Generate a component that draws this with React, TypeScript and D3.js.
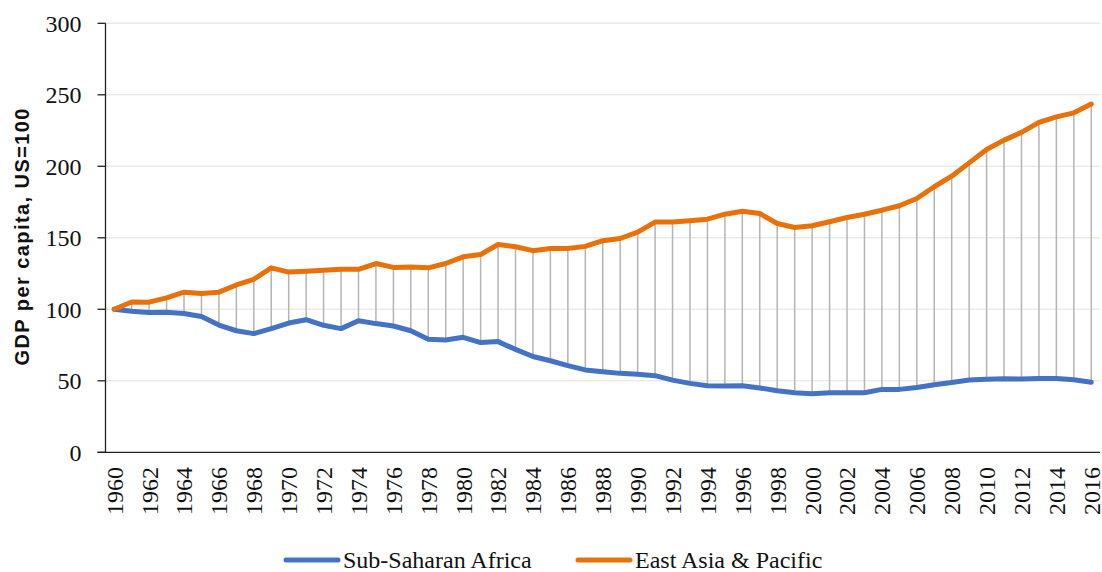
import { useMemo } from "react";
import * as d3 from "d3";

// Years on the category axis
const years: number[] = d3.range(1960, 2017);

// GDP per capita relative to the US (1960 = 100)
const subSaharanAfrica: number[] = [
  100, 98.6, 97.7, 98, 97, 95, 89, 85, 83, 86.5,
  90.4, 92.7, 88.8, 86.5, 92, 90, 88.3, 85, 79, 78.5,
  80.4, 76.7, 77.4, 72, 67, 64, 60.6, 57.6, 56.4, 55.2,
  54.5, 53.6, 50.5, 48.2, 46.6, 46.4, 46.5, 45, 43, 41.6,
  40.9, 41.6, 41.6, 41.6, 44, 44, 45.3, 47.2, 48.8, 50.5,
  51, 51.4, 51.2, 51.6, 51.6, 50.7, 49,
];

const eastAsiaPacific: number[] = [
  100, 105.1, 105, 108, 112, 111, 112, 117, 121, 129,
  126, 126.6, 127.3, 128, 128, 132, 129.3, 129.5, 129, 132,
  136.7, 138.3, 145.3, 143.7, 141, 142.5, 142.5, 144, 148, 149.5,
  154, 161, 161, 162, 163, 166.5, 168.6, 167, 160, 157.2,
  158.4, 161.2, 164.2, 166.5, 169.3, 172.4, 177.5, 185.7, 193.1, 202.4,
  211.8, 218.3, 223.7, 230.7, 234.6, 237.4, 243.5,
];

const yTicks: number[] = [0, 50, 100, 150, 200, 250, 300];
const xTickYears: number[] = years.filter((y) => (y - 1960) % 2 === 0);

const seriesNames = ["Sub-Saharan Africa", "East Asia & Pacific"];
const seriesColors = ["#4472C4", "#E8710A"];

const WIDTH = 1102;
const HEIGHT = 572;
const serif = "'Liberation Serif', 'Times New Roman', serif";

export default function App() {
  const x = useMemo(
    () =>
      d3
        .scaleBand<number>()
        .domain(years)
        .range([105.5, 1100])
        .paddingInner(0)
        .paddingOuter(0),
    []
  );
  const y = useMemo(
    () => d3.scaleLinear().domain([0, 300]).range([452.3, 23.3]),
    []
  );

  const cx = (yr: number) => (x(yr) ?? 0) + x.bandwidth() / 2;

  const line = d3
    .line<number>()
    .x((_, i) => cx(years[i]))
    .y((d) => y(d));

  const [x0, x1] = x.range();

  return (
    <svg
      width={WIDTH}
      height={HEIGHT}
      style={{ position: "absolute", left: 0, top: 0, background: "#fff" }}
    >
      {/* horizontal grid */}
      {yTicks
        .filter((t) => t > 0)
        .map((t) => (
          <line
            key={`g${t}`}
            x1={x0}
            x2={x1}
            y1={y(t)}
            y2={y(t)}
            stroke="#ebebe4"
            strokeWidth={1.5}
          />
        ))}

      {/* high-low drop lines */}
      {years.map((yr, i) => (
        <line
          key={`d${yr}`}
          x1={cx(yr)}
          x2={cx(yr)}
          y1={y(subSaharanAfrica[i])}
          y2={y(eastAsiaPacific[i])}
          stroke="#b4b4b4"
          strokeWidth={1.5}
        />
      ))}

      {/* y axis */}
      <line x1={x0} x2={x0} y1={y(300)} y2={y(0)} stroke="#222" strokeWidth={1.3} />
      {yTicks.map((t) => (
        <g key={`yt${t}`}>
          <line x1={x0 - 8} x2={x0} y1={y(t)} y2={y(t)} stroke="#222" strokeWidth={1.3} />
          <text
            x={x0 - 24}
            y={y(t)}
            dy="0.35em"
            textAnchor="end"
            fontFamily={serif}
            fontSize={24}
            fill="#111"
          >
            {t}
          </text>
        </g>
      ))}

      {/* x axis */}
      <line x1={x0 - 8} x2={x1} y1={y(0)} y2={y(0)} stroke="#222" strokeWidth={1.3} />
      {xTickYears.map((yr) => (
        <text
          key={`xt${yr}`}
          transform={`translate(${cx(yr)},467) rotate(-90)`}
          dy="0.35em"
          textAnchor="end"
          fontFamily={serif}
          fontSize={24}
          fill="#111"
        >
          {yr}
        </text>
      ))}

      {/* series */}
      <path
        d={line(subSaharanAfrica) ?? ""}
        fill="none"
        stroke={seriesColors[0]}
        strokeWidth={5}
        strokeLinejoin="round"
        strokeLinecap="round"
      />
      <path
        d={line(eastAsiaPacific) ?? ""}
        fill="none"
        stroke={seriesColors[1]}
        strokeWidth={5}
        strokeLinejoin="round"
        strokeLinecap="round"
      />

      {/* y axis title */}
      <text
        transform="translate(29,237) rotate(-90)"
        textAnchor="middle"
        fontFamily="'Liberation Sans', Arial, sans-serif"
        fontWeight="bold"
        fontSize={20}
        textLength={257}
        lengthAdjust="spacing"
        fill="#111"
      >
        GDP per capita, US=100
      </text>

      {/* legend */}
      {seriesNames.map((name, i) => {
        const lx = i === 0 ? 286 : 578;
        return (
          <g key={name}>
            <line
              x1={lx}
              x2={lx + 52}
              y1={560}
              y2={560}
              stroke={seriesColors[i]}
              strokeWidth={5}
              strokeLinecap="round"
            />
            <text
              x={lx + 57}
              y={560}
              dy="0.35em"
              fontFamily={serif}
              fontSize={24}
              fill="#111"
            >
              {name}
            </text>
          </g>
        );
      })}
    </svg>
  );
}
